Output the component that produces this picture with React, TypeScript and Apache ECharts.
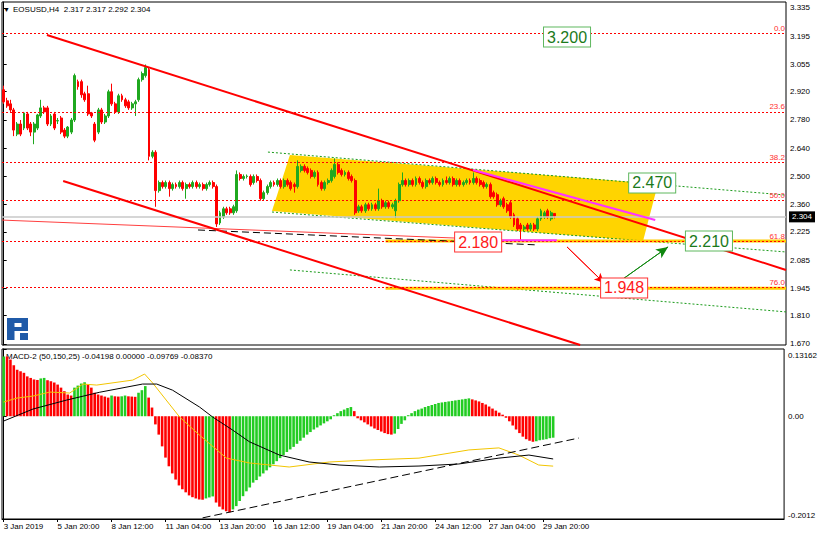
import { useEffect, useRef } from 'react';
import * as echarts from 'echarts';

// ---------- data ----------
const categories = Array.from({ length: 232 }, (_, i) => String(i));
const xTickLabels = ['3 Jan 2019', '5 Jan 20:00', '8 Jan 12:00', '11 Jan 04:00', '13 Jan 20:00', '16 Jan 12:00', '19 Jan 04:00', '21 Jan 20:00', '24 Jan 12:00', '27 Jan 04:00', '29 Jan 20:00'];
const LABEL_STEP = 16;
const priceTicks = [3.335, 3.195, 3.055, 2.92, 2.78, 2.64, 2.5, 2.36, 2.225, 2.085, 1.945, 1.81, 1.67];

// [open, close, low, high]
const candles: number[][] = [
  [2.93, 2.87, 2.86, 2.95], [2.875, 2.85, 2.84, 2.89], [2.86, 2.83, 2.82, 2.88], [2.83, 2.73, 2.70, 2.84],
  [2.71, 2.76, 2.70, 2.77], [2.76, 2.71, 2.70, 2.78], [2.74, 2.815, 2.73, 2.82], [2.81, 2.74, 2.73, 2.82],
  [2.76, 2.72, 2.70, 2.77], [2.72, 2.76, 2.66, 2.77], [2.74, 2.805, 2.73, 2.81], [2.80, 2.84, 2.79, 2.88],
  [2.84, 2.82, 2.81, 2.85], [2.84, 2.76, 2.75, 2.85], [2.76, 2.80, 2.75, 2.81], [2.81, 2.74, 2.73, 2.82],
  [2.775, 2.777, 2.76, 2.79], [2.79, 2.72, 2.71, 2.80], [2.73, 2.70, 2.69, 2.74], [2.70, 2.745, 2.69, 2.75],
  [2.72, 2.78, 2.71, 2.79], [2.78, 3.00, 2.77, 3.01], [2.97, 2.945, 2.93, 2.98], [2.97, 2.905, 2.89, 2.98],
  [2.91, 2.88, 2.87, 2.92], [2.91, 2.81, 2.80, 2.95], [2.815, 2.80, 2.79, 2.82], [2.76, 2.68, 2.67, 2.77],
  [2.72, 2.83, 2.71, 2.84], [2.83, 2.77, 2.76, 2.84], [2.77, 2.80, 2.76, 2.81], [2.80, 2.92, 2.79, 2.93],
  [2.92, 2.86, 2.85, 2.96], [2.86, 2.82, 2.81, 2.87], [2.82, 2.90, 2.81, 2.91], [2.90, 2.88, 2.87, 2.91],
  [2.88, 2.85, 2.84, 2.89], [2.87, 2.84, 2.83, 2.88], [2.84, 2.86, 2.83, 2.87], [2.86, 2.87, 2.80, 2.88],
  [2.88, 2.98, 2.87, 2.99], [2.98, 3.01, 2.97, 3.02], [3.00, 3.04, 2.99, 3.055], [3.03, 2.60, 2.58, 3.04],
  [2.60, 2.62, 2.59, 2.63], [2.62, 2.43, 2.35, 2.63], [2.43, 2.47, 2.42, 2.48], [2.47, 2.45, 2.44, 2.48],
  [2.45, 2.47, 2.44, 2.48], [2.47, 2.44, 2.40, 2.48], [2.44, 2.46, 2.43, 2.47], [2.46, 2.45, 2.44, 2.47],
  [2.45, 2.47, 2.44, 2.48], [2.47, 2.44, 2.43, 2.48], [2.44, 2.46, 2.39, 2.47], [2.46, 2.45, 2.44, 2.47],
  [2.45, 2.47, 2.44, 2.48], [2.47, 2.45, 2.44, 2.48], [2.45, 2.46, 2.44, 2.47], [2.46, 2.44, 2.43, 2.47],
  [2.44, 2.46, 2.43, 2.47], [2.46, 2.47, 2.45, 2.48], [2.47, 2.45, 2.44, 2.48], [2.45, 2.265, 2.25, 2.46],
  [2.27, 2.32, 2.26, 2.33], [2.30, 2.34, 2.29, 2.35], [2.34, 2.32, 2.31, 2.35], [2.34, 2.32, 2.31, 2.35],
  [2.32, 2.35, 2.31, 2.36], [2.33, 2.51, 2.32, 2.53], [2.51, 2.49, 2.48, 2.52], [2.49, 2.50, 2.48, 2.51],
  [2.50, 2.502, 2.49, 2.51], [2.50, 2.46, 2.45, 2.51], [2.47, 2.50, 2.46, 2.51], [2.50, 2.48, 2.47, 2.51],
  [2.48, 2.39, 2.38, 2.49], [2.39, 2.42, 2.38, 2.43], [2.42, 2.45, 2.41, 2.46], [2.45, 2.47, 2.44, 2.48],
  [2.47, 2.46, 2.45, 2.48], [2.46, 2.48, 2.45, 2.49], [2.48, 2.45, 2.44, 2.49], [2.45, 2.48, 2.44, 2.49],
  [2.48, 2.46, 2.45, 2.49], [2.47, 2.44, 2.43, 2.48], [2.46, 2.45, 2.42, 2.47], [2.45, 2.55, 2.44, 2.58],
  [2.53, 2.55, 2.52, 2.56], [2.55, 2.53, 2.52, 2.56], [2.54, 2.52, 2.51, 2.55], [2.53, 2.50, 2.49, 2.54],
  [2.50, 2.52, 2.49, 2.53], [2.52, 2.46, 2.45, 2.53], [2.47, 2.44, 2.43, 2.48], [2.44, 2.47, 2.43, 2.48],
  [2.47, 2.48, 2.46, 2.49], [2.48, 2.53, 2.47, 2.54], [2.50, 2.56, 2.49, 2.59], [2.56, 2.52, 2.51, 2.57],
  [2.53, 2.51, 2.50, 2.54], [2.51, 2.52, 2.50, 2.53], [2.52, 2.49, 2.48, 2.53], [2.50, 2.48, 2.47, 2.51],
  [2.48, 2.32, 2.31, 2.49], [2.33, 2.35, 2.32, 2.36], [2.35, 2.33, 2.32, 2.36], [2.33, 2.36, 2.32, 2.37],
  [2.36, 2.34, 2.33, 2.37], [2.34, 2.36, 2.33, 2.37], [2.36, 2.34, 2.33, 2.37], [2.34, 2.38, 2.33, 2.44],
  [2.38, 2.35, 2.34, 2.39], [2.35, 2.37, 2.34, 2.38], [2.37, 2.35, 2.34, 2.38], [2.35, 2.36, 2.34, 2.37],
  [2.33, 2.38, 2.294, 2.39], [2.38, 2.46, 2.37, 2.47], [2.46, 2.48, 2.45, 2.52], [2.48, 2.46, 2.45, 2.49],
  [2.46, 2.48, 2.45, 2.49], [2.48, 2.46, 2.45, 2.49], [2.46, 2.49, 2.45, 2.50], [2.49, 2.47, 2.46, 2.50],
  [2.47, 2.45, 2.44, 2.48], [2.45, 2.48, 2.44, 2.49], [2.48, 2.47, 2.46, 2.49], [2.47, 2.49, 2.46, 2.50],
  [2.49, 2.47, 2.46, 2.50], [2.47, 2.46, 2.45, 2.48], [2.46, 2.48, 2.45, 2.49], [2.48, 2.47, 2.46, 2.50],
  [2.47, 2.49, 2.46, 2.50], [2.49, 2.46, 2.45, 2.50], [2.46, 2.48, 2.45, 2.49], [2.48, 2.46, 2.45, 2.49],
  [2.46, 2.47, 2.45, 2.48], [2.47, 2.48, 2.46, 2.49], [2.48, 2.47, 2.46, 2.49], [2.47, 2.49, 2.46, 2.52],
  [2.49, 2.47, 2.46, 2.50], [2.48, 2.46, 2.45, 2.49], [2.47, 2.45, 2.44, 2.48], [2.45, 2.46, 2.44, 2.47],
  [2.46, 2.40, 2.39, 2.47], [2.42, 2.40, 2.39, 2.43], [2.41, 2.36, 2.35, 2.42], [2.36, 2.38, 2.35, 2.39],
  [2.39, 2.35, 2.34, 2.40], [2.36, 2.33, 2.32, 2.37], [2.37, 2.30, 2.29, 2.38], [2.31, 2.26, 2.25, 2.32],
  [2.29, 2.24, 2.23, 2.30], [2.26, 2.24, 2.185, 2.27], [2.24, 2.25, 2.23, 2.26], [2.26, 2.24, 2.23, 2.27],
  [2.24, 2.26, 2.23, 2.27], [2.26, 2.24, 2.23, 2.27], [2.24, 2.29, 2.23, 2.30], [2.29, 2.33, 2.28, 2.34],
  [2.30, 2.32, 2.29, 2.33], [2.33, 2.30, 2.29, 2.34], [2.29, 2.32, 2.28, 2.33], [2.317, 2.304, 2.292, 2.317],
];

const fibLevels = [3.211, 2.817, 2.574, 2.377, 2.18, 1.946];
const fibNames = ['0.0', '23.6', '38.2', '50.0', '61.8', '76.0'];
const bidPrice = 2.304;

const macdHist = [
  0.117, 0.117, 0.111, 0.100, 0.091, 0.088, 0.085, 0.078, 0.075, 0.072,
  0.071, 0.074, 0.075, 0.0705, 0.0685, 0.066, 0.062, 0.056, 0.049, 0.0425,
  0.0405, 0.056, 0.060, 0.064, 0.0665, 0.062, 0.056, 0.046, 0.0425, 0.0405,
  0.0385, 0.0365, 0.0405, 0.039, 0.0385, 0.039, 0.0405, 0.039, 0.0385, 0.038,
  0.046, 0.051, 0.059, 0.0365, 0.017, -0.016, -0.036, -0.059, -0.081, -0.098,
  -0.112, -0.124, -0.1355, -0.143, -0.149, -0.155, -0.1585, -0.161, -0.163, -0.1635,
  -0.161, -0.159, -0.157, -0.169, -0.177, -0.1825, -0.186, -0.188, -0.1825, -0.176,
  -0.166, -0.1565, -0.147, -0.1395, -0.130, -0.125, -0.118, -0.112, -0.106, -0.100,
  -0.094, -0.088, -0.082, -0.076, -0.070, -0.065, -0.060, -0.054, -0.048, -0.042,
  -0.036, -0.031, -0.026, -0.022, -0.018, -0.014, -0.010, -0.006, 0.002, 0.006,
  0.010, 0.013, 0.016, 0.018, 0.010, -0.004, -0.008, -0.012, -0.016, -0.020,
  -0.024, -0.027, -0.030, -0.033, -0.035, -0.036, -0.034, -0.025, -0.015, -0.008,
  0.002, 0.006, 0.010, 0.013, 0.015, 0.018, 0.020, 0.022, 0.024, 0.026,
  0.027, 0.028, 0.029, 0.030, 0.031, 0.032, 0.033, 0.034, 0.035, 0.033,
  0.031, 0.029, 0.026, 0.023, 0.019, 0.015, 0.011, 0.007, 0.003, -0.003,
  -0.010, -0.018, -0.026, -0.033, -0.040, -0.045, -0.048, -0.050, -0.049, -0.047,
  -0.046, -0.045, -0.043, -0.042,
];
const macdBlack = [
  [0, -0.0094], [8.7, 0.0141], [18.7, 0.0317], [28.5, 0.047], [41.2, 0.063], [45.4, 0.063],
  [50.1, 0.051], [58.1, 0.018], [62, -0.0016], [67.9, -0.027], [72.9, -0.05], [81.8, -0.076],
  [90.6, -0.0896], [99.5, -0.0955], [111.4, -0.0994], [123.2, -0.0975], [135, -0.0935],
  [146.9, -0.082], [155.8, -0.076], [163, -0.0837],
];
const macdYellow = [
  [0, 0.0278], [4, 0.0356], [8.7, 0.0395], [13.7, 0.0473], [19.6, 0.0454], [23.5, 0.063],
  [27.6, 0.061], [38.3, 0.0708], [41.8, 0.0826], [44.2, 0.065], [52.2, -0.0016], [58.1, -0.037],
  [66.1, -0.082], [72.9, -0.0915], [84.7, -0.0994], [96.6, -0.0896], [108.4, -0.0857],
  [123.2, -0.082], [138, -0.066], [146.9, -0.062], [152.8, -0.076], [158.7, -0.0955], [163, -0.0977],
];
const macdTrend = [[59, -0.199], [170.6, -0.0427]];

// drawn objects (bar index, price)
const upperChannel = [[12.8, 3.201], [231.5, 2.037]];
const lowerChannel = [[17.6, 2.478], [170.6, 1.665]];
const thinRed = [[-0.5, 2.284], [133.6, 2.195]];
const blackDash = [[57.5, 2.235], [157.8, 2.161]];
const yellowChannel = [[84.7, 2.607], [193.6, 2.463], [189.2, 2.18], [79.4, 2.329]];
const greenUpper = [[78.2, 2.621], [231.5, 2.408]];
const greenMid = [[79.4, 2.324], [231.5, 2.126]];
const greenLower = [[84.7, 2.037], [231.5, 1.829]];
const magentaLine = [[138.9, 2.532], [192.8, 2.284]];
const magentaShort = [[146, 2.184], [163.7, 2.184]];
const yellowBand1 = [[113, 2.18], [231.5, 2.18]];
const yellowBand2 = [[113, 1.946], [231.5, 1.946]];
const redArrow = [[166.7, 2.151], [177.7, 1.972]];
const greenArrow = [[180.3, 1.957], [196.6, 2.151]];
const priceBoxes = [
  { text: '3.200', at: [166.7, 3.191], tone: 'up' },
  { text: '2.470', at: [191.9, 2.468], tone: 'up' },
  { text: '2.210', at: [208.7, 2.18], tone: 'up' },
  { text: '2.180', at: [140.4, 2.175], tone: 'down' },
  { text: '1.948', at: [183.6, 1.948], tone: 'down' },
];

const headerText = 'EOSUSD,H4  2.317 2.317 2.292 2.304';
const macdText = 'MACD-2 (50,150,25) -0.04198 0.00000 -0.09769 -0.08370';

echarts.graphic.registerShape(
  'roboLogo',
  echarts.graphic.extendPath('M0 0H21V13H7.5V22H0Z M7.5 5V9H14.5V5Z M13 15H21V22H13Z', {}) as any
);

const FONT = '"Liberation Sans", Arial, sans-serif';

export default function App() {
  const ref = useRef<HTMLDivElement>(null);
  useEffect(() => {
    const chart = echarts.init(ref.current!, null, { renderer: 'svg' });
    const seg = (data: number[][], color: string, width: number, type: any = 'solid', z = 4) => ({
      type: 'line', xAxisIndex: 2, yAxisIndex: 0, data, symbol: 'none', silent: true, z,
      lineStyle: { color, width, type },
    });
    const labelInterval = (idx: number) => idx % LABEL_STEP === 0 && idx / LABEL_STEP < xTickLabels.length;
    const option: any = {
      animation: false,
      backgroundColor: '#fff',
      textStyle: { fontFamily: FONT },
      grid: [
        { left: 2, top: 2, width: 784, height: 343, show: true, borderColor: '#000', borderWidth: 1, backgroundColor: '#fff' },
        { left: 2, top: 349, width: 784, height: 170, show: true, borderColor: '#000', borderWidth: 1, backgroundColor: '#fff' },
      ],
      xAxis: [
        { type: 'category', gridIndex: 0, data: categories, boundaryGap: true, show: false },
        {
          type: 'category', gridIndex: 1, data: categories, boundaryGap: true,
          axisLine: { show: true, onZero: false, lineStyle: { color: '#000' } },
          axisTick: { show: true, interval: labelInterval, alignWithLabel: true, length: 3, lineStyle: { color: '#000' } },
          axisLabel: {
            interval: labelInterval, align: 'left', fontSize: 8, color: '#000', margin: 3, fontFamily: FONT,
            formatter: (_v: string, idx: number) => xTickLabels[idx / LABEL_STEP] ?? '',
          },
          splitLine: { show: false },
        },
        { type: 'value', gridIndex: 0, min: -0.5, max: 231.5, show: false },
        { type: 'value', gridIndex: 1, min: -0.5, max: 231.5, show: false },
      ],
      yAxis: [
        {
          type: 'value', gridIndex: 0, position: 'right', min: 1.665, max: 3.3647,
          axisLine: { show: true, lineStyle: { color: '#000' } },
          axisTick: { show: true, customValues: priceTicks, length: 3, lineStyle: { color: '#000' } },
          axisLabel: { customValues: priceTicks, formatter: (v: number) => v.toFixed(3), fontSize: 8, color: '#000', margin: 4, fontFamily: FONT },
          splitLine: { show: false },
        },
        {
          type: 'value', gridIndex: 1, position: 'right', min: -0.2012, max: 0.13162,
          axisLine: { show: true, lineStyle: { color: '#000' } },
          axisTick: { show: true, customValues: [0.13162, 0, -0.2012], length: 3, lineStyle: { color: '#000' } },
          axisLabel: {
            customValues: [0.13162, 0, -0.2012], fontSize: 8, color: '#000', margin: 4, fontFamily: FONT,
            formatter: (v: number) => (v > 0.05 ? '{t|0.13162}' : v < -0.1 ? '{b|-0.2012}' : '{m|0.00}'),
            rich: {
              t: { fontSize: 8, padding: [12, 0, 0, 0], fontFamily: FONT },
              m: { fontSize: 8, fontFamily: FONT },
              b: { fontSize: 8, padding: [0, 0, 8, 0], fontFamily: FONT },
            },
          },
          splitLine: { show: false },
        },
      ],
      series: [
        {
          type: 'custom', xAxisIndex: 2, yAxisIndex: 0, z: 1, silent: true,
          data: [yellowChannel[0]],
          renderItem: (_p: any, api: any) => ({
            type: 'polygon',
            shape: { points: yellowChannel.map((pt) => api.coord(pt)) },
            style: { fill: '#ffd400', stroke: 'none' },
          }),
        },
        seg(greenUpper, '#1a9a1a', 1, [2, 2], 2),
        seg(greenMid, '#1a9a1a', 1, [2, 2], 2),
        seg(greenLower, '#1a9a1a', 1, [2, 2], 2),
        seg(yellowBand1, '#ffcc00', 3, 'solid', 2),
        seg(yellowBand2, '#ffcc00', 3, 'solid', 2),
        {
          type: 'candlestick', xAxisIndex: 0, yAxisIndex: 0, data: candles, barWidth: 2.4, z: 3,
          itemStyle: { color: '#1fa81f', color0: '#ff0000', borderColor: '#1fa81f', borderColor0: '#ff0000', borderWidth: 1 },
          markLine: {
            silent: true, symbol: 'none', animation: false,
            data: [
              ...fibLevels.map((v, k) => ({
                yAxis: v,
                lineStyle: { color: '#ff0000', width: 1, type: [2, 2] },
                label: { show: true, position: 'insideEndTop', formatter: fibNames[k], color: '#ff3030', fontSize: 8, distance: 1, fontFamily: FONT },
              })),
              {
                yAxis: bidPrice,
                lineStyle: { color: '#c8c8c8', width: 1.5, type: 'solid' },
                label: { show: true, position: 'end', formatter: bidPrice.toFixed(3), color: '#fff', backgroundColor: '#000', padding: [2, 3, 1, 3], fontSize: 8, distance: 3, fontFamily: FONT },
              },
            ],
          },
        },
        seg(thinRed, '#ff4040', 1, 'solid', 4),
        seg(blackDash, '#000', 1, [7, 4], 4),
        seg(upperChannel, '#ff0000', 2, 'solid', 5),
        seg(lowerChannel, '#ff0000', 2, 'solid', 5),
        seg(magentaLine, '#ff33ff', 2, 'solid', 6),
        seg(magentaShort, '#ff33ff', 2, 'solid', 6),
        {
          ...seg(redArrow, '#ff0000', 1, 'solid', 6),
          markLine: {
            silent: true, symbol: ['none', 'arrow'], symbolSize: [7, 10], label: { show: false },
            lineStyle: { color: '#ff0000', width: 1, type: 'solid' },
            data: [[{ coord: redArrow[0] }, { coord: redArrow[1] }]],
          },
        },
        {
          ...seg(greenArrow, '#118811', 1, 'solid', 6),
          markLine: {
            silent: true, symbol: ['none', 'arrow'], symbolSize: [8, 12], label: { show: false },
            lineStyle: { color: '#118811', width: 1, type: 'solid' },
            data: [[{ coord: greenArrow[0] }, { coord: greenArrow[1] }]],
          },
        },
        {
          type: 'custom', xAxisIndex: 2, yAxisIndex: 0, z: 10, silent: true,
          data: priceBoxes.map((b) => b.at),
          renderItem: (params: any, api: any) => {
            const b = priceBoxes[params.dataIndex];
            const p = api.coord([api.value(0), api.value(1)]);
            const up = b.tone === 'up';
            return {
              type: 'text', x: p[0], y: p[1],
              style: {
                text: b.text, font: `16px ${FONT}`, fill: up ? '#1b7a1b' : '#ff1a1a',
                align: 'center', verticalAlign: 'middle',
                backgroundColor: '#fff', borderColor: up ? '#5fb85f' : '#ff3030', borderWidth: 1, padding: [2, 3, 1, 3],
              },
            };
          },
        },
        {
          type: 'bar', xAxisIndex: 1, yAxisIndex: 1, data: macdHist, barWidth: 2.6, z: 2,
          itemStyle: {
            color: (p: any) => (p.dataIndex === 0 || macdHist[p.dataIndex] > macdHist[p.dataIndex - 1] ? '#22cc22' : '#ff0000'),
          },
        },
        { type: 'line', xAxisIndex: 3, yAxisIndex: 1, data: macdYellow, symbol: 'none', silent: true, z: 4, lineStyle: { color: '#f2c500', width: 1 } },
        { type: 'line', xAxisIndex: 3, yAxisIndex: 1, data: macdBlack, symbol: 'none', silent: true, z: 4, lineStyle: { color: '#000', width: 1 } },
        { type: 'line', xAxisIndex: 3, yAxisIndex: 1, data: macdTrend, symbol: 'none', silent: true, z: 5, lineStyle: { color: '#000', width: 1, type: [8, 4] } },
      ],
      graphic: [
        { type: 'text', x: 3, y: 6, style: { text: '▼', font: `7px ${FONT}`, fill: '#000' } },
        { type: 'text', x: 13, y: 5, style: { text: headerText, font: `8px ${FONT}`, fill: '#000' } },
        { type: 'text', x: 6, y: 352, style: { text: macdText, font: `8px ${FONT}`, fill: '#000' } },
        { type: 'roboLogo', x: 7, y: 318, style: { fill: '#1f5aa8' } },
      ],
    };
    chart.setOption(option);
    return () => chart.dispose();
  }, []);
  return <div ref={ref} style={{ position: 'fixed', left: 0, top: 0, width: 820, height: 538 }} />;
}
